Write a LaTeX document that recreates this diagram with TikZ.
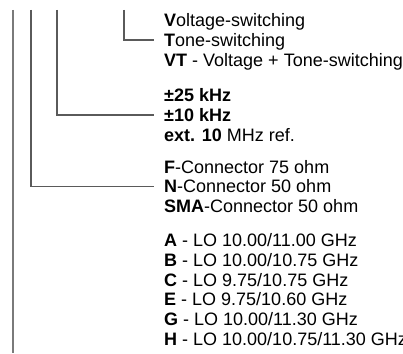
\documentclass[tikz,border=0pt]{standalone}
\usepackage{fontspec}
\setmainfont{Liberation Sans}
\usetikzlibrary{positioning}
\definecolor{leadgray}{HTML}{5A5A5A}
\definecolor{trunkgray}{HTML}{7A7A7A}
\tikzset{
  optline/.style = {font=\fontsize{18}{19.4}\selectfont, anchor=base west,
                    inner sep=0pt, text height=12.6pt, text depth=0pt},
  lead/.style    = {draw=leadgray, line width=1.1pt, shorten >=10pt},
  trunk/.style   = {draw=trunkgray, line width=1.8pt},
}

\begin{document}
\begin{tikzpicture}[x=1pt,y=-1pt]
    \useasboundingbox (0,0) rectangle (403,353);
    % switching
    \node[optline] (volt) at (164,26.5) {\textbf{V}oltage-switching};
    \node[optline, below right=6.8pt and 0pt of volt.south west] (tone) {\textbf{T}one-switching};
    \node[optline, below right=6.8pt and 0pt of tone.south west] (vt) {\textbf{VT} - Voltage + Tone-switching};
    % stability
    \node[optline] (s25) at (164,101.5) {\textbf{±25 kHz}};
    \node[optline, below right=6.8pt and 0pt of s25.south west] (s10) {\textbf{±10 kHz}};
    \node[optline, below right=6.8pt and 0pt of s10.south west] (ext) {\textbf{ext. 10} MHz ref.};
    % connector
    \node[optline] (fconn) at (164,173) {\textbf{F}-Connector 75 ohm};
    \node[optline, below right=6.8pt and 0pt of fconn.south west] (nconn) {\textbf{N}-Connector 50 ohm};
    \node[optline, below right=6.8pt and 0pt of nconn.south west] (sma) {\textbf{SMA}-Connector 50 ohm};
    % LO
    \node[optline] (loa) at (164,246.5) {\textbf{A} - LO 10.00/11.00 GHz};
    \node[optline, below right=6.8pt and 0pt of loa.south west] (lob) {\textbf{B} - LO 10.00/10.75 GHz};
    \node[optline, below right=6.8pt and 0pt of lob.south west] (loc) {\textbf{C} - LO 9.75/10.75 GHz};
    \node[optline, below right=6.8pt and 0pt of loc.south west] (loe) {\textbf{E} - LO 9.75/10.60 GHz};
    \node[optline, below right=6.8pt and 0pt of loe.south west] (log) {\textbf{G} - LO 10.00/11.30 GHz};
    \node[optline, below right=6.8pt and 0pt of log.south west] (loh) {\textbf{H} - LO 10.00/10.75/11.30 GHz};
    % leads
    \coordinate (toplo) at (13,10);
    \coordinate (botlo) at (13,353);
    \coordinate (topcon) at (31,10);
    \coordinate (topstab) at (57,10);
    \coordinate (topsw) at (124,10);
    \draw[trunk] (toplo) -- (botlo);
    \draw[lead] (topcon) |- (nconn.west);
    \draw[lead] (topstab) |- (s10.west);
    \draw[lead] (topsw) |- (tone.west);
\end{tikzpicture}
\end{document}
